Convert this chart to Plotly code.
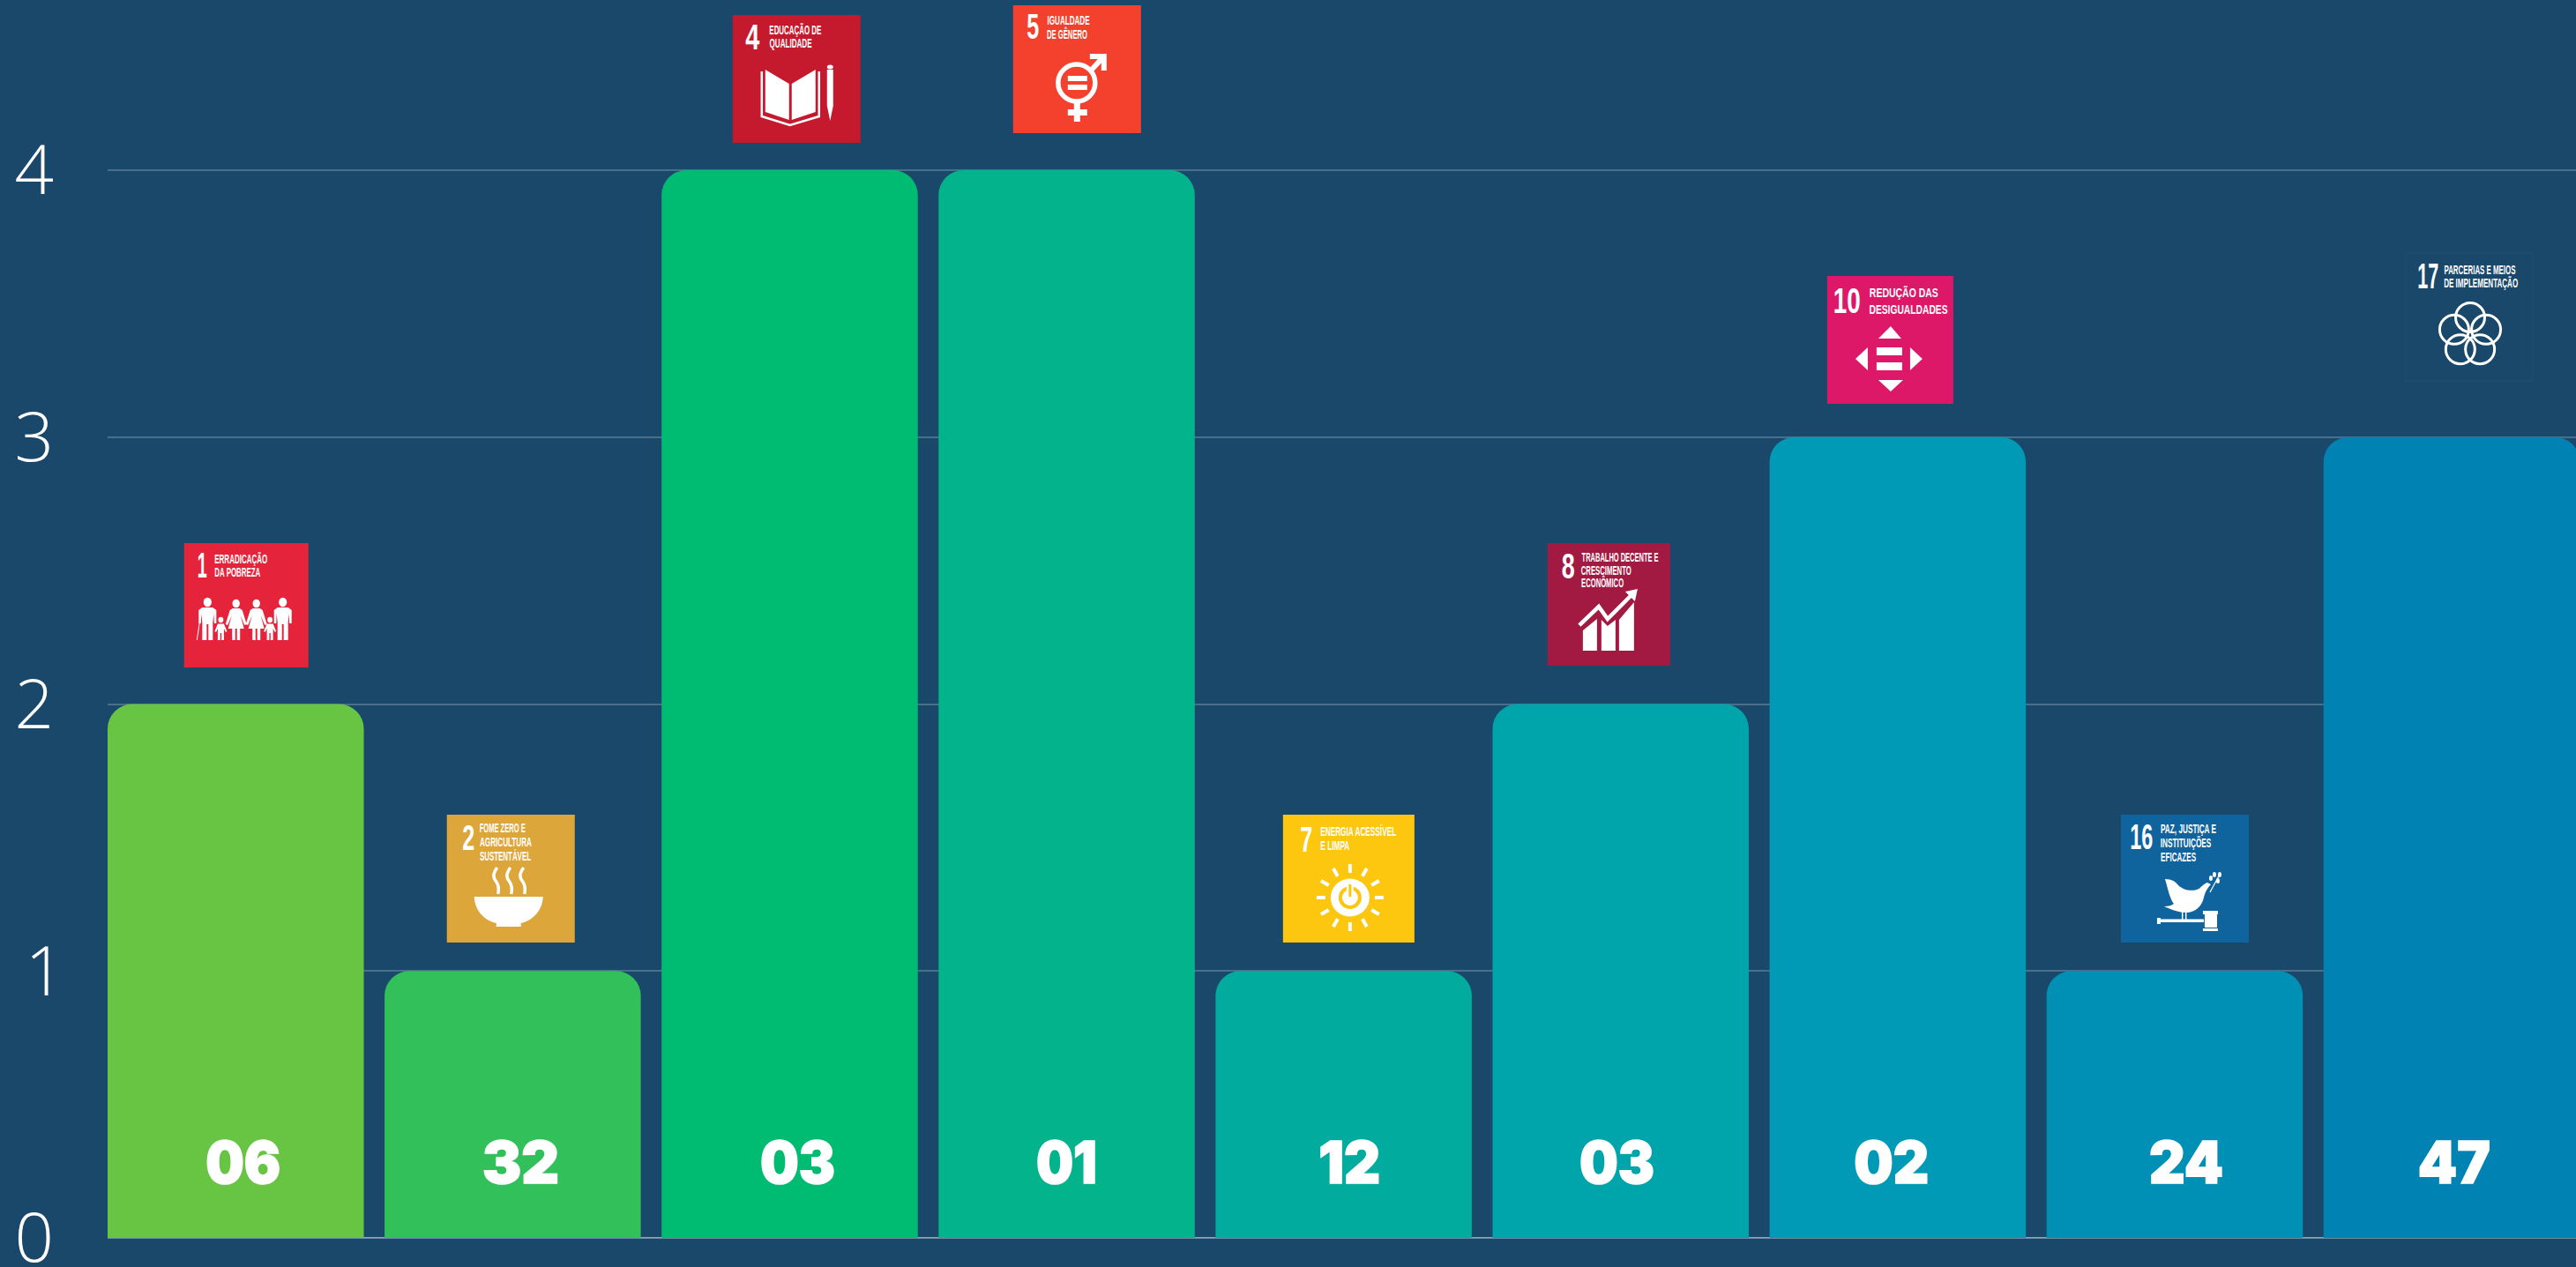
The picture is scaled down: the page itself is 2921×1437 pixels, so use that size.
import json
import math
import plotly.graph_objects as go

# ---------- data ----------
sdg_numbers = ["1", "2", "4", "5", "7", "8", "10", "16", "17"]
sdg_titles = [
    ["ERRADICAÇÃO", "DA POBREZA"],
    ["FOME ZERO E", "AGRICULTURA", "SUSTENTÁVEL"],
    ["EDUCAÇÃO DE", "QUALIDADE"],
    ["IGUALDADE", "DE GÊNERO"],
    ["ENERGIA ACESSÍVEL", "E LIMPA"],
    ["TRABALHO DECENTE E", "CRESCIMENTO", "ECONÔMICO"],
    ["REDUÇÃO DAS", "DESIGUALDADES"],
    ["PAZ, JUSTIÇA E", "INSTITUIÇÕES", "EFICAZES"],
    ["PARCERIAS E MEIOS", "DE IMPLEMENTAÇÃO"],
]
values = [2, 1, 4, 4, 1, 2, 3, 1, 3]
bar_labels = ["06", "32", "03", "01", "12", "03", "02", "24", "47"]
y_ticks = [0, 1, 2, 3, 4]

# ---------- styles ----------
BG = "#1A486B"
WHITE = "#FFFFFF"
bar_colors = ["#68C544", "#32C05A", "#00BC72", "#02B38B", "#01AC9E",
              "#00A4AB", "#009AB6", "#008FB5", "#0083B3"]
icon_colors = ["#E5243B", "#DDA63A", "#C5192D", "#F3412D", "#FDC60F",
               "#A21942", "#DD1868", "#10649E", "#19486A"]
icon_origins = [(209, 616), (507, 924), (831, 17), (1149, 6), (1455, 924),
                (1755, 616), (2072, 313), (2405, 924), (2728, 287)]
icon_sizes = [(141, 141), (145, 145), (145, 145), (145, 145), (149, 145),
              (139, 139), (143, 145), (145, 145), (144, 145)]
number_pos = [(15, 24.5), (17.5, 25.5), (15, 25), (15, 24.5), (19, 27.5),
              (16, 25.5), (7, 28), (11, 25), (13.5, 25.5)]
number_w = [11, 14, 16, 14, 14, 15, 31, 26, 24]
title_x = [35, 37, 42, 38.5, 42.5, 38.6, 48, 45, 44]
title_y = [[17.5, 32.5], [14, 30, 46], [16, 32], [17, 32], [18, 34],
           [15, 30, 45], [19, 37], [15, 31, 47], [18, 33]]
title_w = [[60, 52], [52, 59, 58], [59, 48], [48, 46], [86, 33],
           [87, 57, 48], [78, 89], [63, 57.5, 40], [81, 84]]
label_shifts = [8, 9, 9, 0, 7, -4, -7, 13, 3]
label_w = [85, 87, 85, 69, 70, 85, 85, 84, 82]

L, T, W_PX, H_PX, ZERO_Y = 122.3, 0, 2798.7, 1404, 1404
PITCH, BAR_W = 314.06, 290.5


def fx(x):
    return (x - L) / W_PX


def fy(y):
    return (ZERO_Y - y) / H_PX


shapes = []
annotations = []
text_lengths = []


def poly(o, pts, close=True, fill=WHITE, line=None, w=0):
    d = "M" + " L".join(f"{fx(o[0]+a):.5f},{fy(o[1]+b):.5f}" for a, b in pts)
    if close:
        d += " Z"
    shapes.append(dict(type="path", xref="paper", yref="paper", path=d,
                       fillcolor=fill if close else "rgba(0,0,0,0)",
                       line=dict(color=line or "rgba(0,0,0,0)", width=w)))


def curve(o, segs, close=False, fill=None, line=WHITE, w=3):
    s = segs[0]
    d = f"M{fx(o[0]+s[0]):.5f},{fy(o[1]+s[1]):.5f}"
    for seg in segs[1:]:
        if len(seg) == 3:
            d += " C" + " ".join(f"{fx(o[0]+p[0]):.5f},{fy(o[1]+p[1]):.5f}" for p in seg)
        else:
            d += f" L{fx(o[0]+seg[0]):.5f},{fy(o[1]+seg[1]):.5f}"
    if close:
        d += " Z"
    shapes.append(dict(type="path", xref="paper", yref="paper", path=d,
                       fillcolor=fill or "rgba(0,0,0,0)",
                       line=dict(color=line or "rgba(0,0,0,0)", width=w if line else 0)))


def rect(o, x0, y0, x1, y1, fill=WHITE):
    poly(o, [(x0, y0), (x1, y0), (x1, y1), (x0, y1)], fill=fill)


def circ(o, cx, cy, rx, ry=None, fill=WHITE, line=None, w=0):
    ry = ry if ry is not None else rx
    shapes.append(dict(type="circle", xref="paper", yref="paper",
                       x0=fx(o[0]+cx-rx), x1=fx(o[0]+cx+rx),
                       y0=fy(o[1]+cy+ry), y1=fy(o[1]+cy-ry),
                       fillcolor=fill or "rgba(0,0,0,0)",
                       line=dict(color=line or "rgba(0,0,0,0)", width=w)))


def man(o, x, cane=False):
    circ(o, x, 67, 4.6, 5.2)
    poly(o, [(x-6, 73), (x+6, 73), (x+10, 76), (x+10, 91), (x+7.5, 91), (x+7, 80),
             (x+6, 90), (x+6, 110), (x+1, 110), (x+1, 92), (x-1, 92), (x-1, 110),
             (x-6, 110), (x-6, 90), (x-7, 80), (x-7.5, 91), (x-10, 91), (x-10, 76)])
    if cane:
        poly(o, [(x-9, 90), (x-12, 110)], close=False, line=WHITE, w=1)


def woman(o, x):
    circ(o, x, 68.5, 4.2, 4.8)
    poly(o, [(x-4, 74), (x+4, 74), (x+7, 76), (x+12, 92), (x+9.5, 93), (x+5, 82),
             (x+9, 97), (x+4.5, 97), (x+4.5, 110), (x+1, 110), (x+1, 97), (x-1, 97),
             (x-1, 110), (x-4.5, 110), (x-4.5, 97), (x-9, 97), (x-5, 82), (x-9.5, 93),
             (x-12, 92), (x-7, 76)])


def kid(o, x):
    circ(o, x, 87, 2.9, 3.2)
    poly(o, [(x-3.5, 91.5), (x+3.5, 91.5), (x+7, 100), (x+5.5, 101), (x+3.5, 97),
             (x+3.5, 110), (x+0.7, 110), (x+0.7, 102), (x-0.7, 102), (x-0.7, 110),
             (x-3.5, 110), (x-3.5, 97), (x-5.5, 101), (x-7, 100)])


def glyph_1(o):
    man(o, 26.6, cane=True); man(o, 112)
    woman(o, 59); woman(o, 82)
    kid(o, 41.7); kid(o, 97.4)


def glyph_2(o):
    curve(o, [(31, 93), (109, 93), ((108, 112), (94, 121), (84, 123)), (84, 127),
              (56, 127), (56, 123), ((46, 121), (32, 112), (31, 93))],
          close=True, fill=WHITE, line=None)
    for x in (57, 72, 87):
        curve(o, [(x, 60), ((x-5, 67), (x-5, 71), (x-1, 76)), ((x+2, 80), (x+2, 85), (x+1, 90))], w=3.5)


def glyph_4(o):
    poly(o, [(37, 62), (64, 78), (64, 119), (37, 110)])
    poly(o, [(67, 78), (94, 62), (94, 110), (67, 119)])
    poly(o, [(33, 64), (33, 115), (65, 125), (98, 115), (98, 64)], close=False, line=WHITE, w=2.5)
    poly(o, [(107, 62), (114, 62), (114, 103), (110.5, 120), (107, 103)])
    circ(o, 110.5, 59, 3.5, 2.5)


def glyph_5(o):
    circ(o, 72, 88, 21, fill=None, line=WHITE, w=5.5)
    rect(o, 62, 80, 84, 86)
    rect(o, 62, 90, 84, 96)
    rect(o, 69, 110, 76, 132)
    rect(o, 62, 118, 84, 125)
    poly(o, [(89, 73), (101, 60)], close=False, line=WHITE, w=6)
    poly(o, [(87, 55), (106, 55), (106, 74), (100, 74), (100, 61), (87, 61)])


def glyph_7(o):
    for k in range(12):
        a = math.radians(30 * k)
        poly(o, [(76 + 28 * math.cos(a), 94 + 28 * math.sin(a)),
                 (76 + 38 * math.cos(a), 94 + 38 * math.sin(a))],
             close=False, line=WHITE, w=4)
    circ(o, 76, 94, 22, 21.5)
    circ(o, 76, 94, 11, fill=None, line="#FDC60F", w=4)
    rect(o, 72, 80, 80, 94)
    rect(o, 74.5, 79, 77.5, 93, fill="#FDC60F")


def glyph_8(o):
    poly(o, [(40, 99), (56, 86), (56, 122), (40, 122)])
    poly(o, [(61, 87), (68, 94), (77, 87), (77, 122), (61, 122)])
    poly(o, [(81, 87), (98, 67), (98, 122), (81, 122)])
    poly(o, [(36, 93), (58, 72), (68, 86), (96, 58)], close=False, line=WHITE, w=4.5)
    poly(o, [(88, 55), (102, 52), (99, 66)])


def glyph_10(o):
    poly(o, [(72, 57), (58, 71), (84, 71)])
    poly(o, [(58, 118), (86, 118), (72, 131)])
    poly(o, [(32, 94), (46, 81), (46, 107)])
    poly(o, [(108, 94), (94, 81), (94, 107)])
    rect(o, 56, 81, 85, 90)
    rect(o, 56, 98, 85, 107)


def glyph_16(o):
    curve(o, [(50, 73), ((58, 73), (62, 76), (65, 80)), ((70, 85), (80, 88), (88.5, 84)),
              ((92, 81), (95, 78), (98, 77)), (102, 79), ((97, 84), (95, 90), (94, 94)),
              ((92, 104), (84, 111), (74, 111)), ((66, 111), (58, 108), (49, 104)),
              ((54, 104), (58, 103), (60, 101)), ((55, 95), (53, 82), (50, 73))],
          close=True, fill=WHITE, line=None)
    poly(o, [(101, 88), (113, 66)], close=False, line=WHITE, w=1.2)
    for cx, cy in [(102, 72), (110, 75), (106, 68), (112, 68)]:
        circ(o, cx, cy, 2, 3)
    rect(o, 43, 118.5, 94, 122)
    rect(o, 41, 117, 45, 124)
    rect(o, 69, 110, 70.5, 119); rect(o, 73, 110, 74.5, 119)
    rect(o, 95, 113, 109, 128)
    rect(o, 93, 109, 110, 113)
    rect(o, 93, 129, 110, 132)


def glyph_17(o):
    for k in range(5):
        a = math.radians(-90 + 72 * k)
        circ(o, 73 + 19 * math.cos(a), 93 + 20 * math.sin(a), 16.5,
             fill=None, line=WHITE, w=3)


glyphs = [glyph_1, glyph_2, glyph_4, glyph_5, glyph_7, glyph_8, glyph_10, glyph_16, glyph_17]

CONDENSED = "Liberation Sans, Arial, sans-serif"
for i, num in enumerate(sdg_numbers):
    ox, oy = icon_origins[i]
    w, h = icon_sizes[i]
    shapes.append(dict(type="rect", xref="paper", yref="paper",
                       x0=fx(ox), x1=fx(ox + w), y0=fy(oy + h), y1=fy(oy),
                       fillcolor=icon_colors[i],
                       line=dict(color="#1F4F74" if i == 8 else "rgba(0,0,0,0)", width=1)))
    glyphs[i]((ox, oy))
    nx, ny = number_pos[i]
    annotations.append(dict(xref="paper", yref="paper", x=fx(ox + nx + number_w[i] / 2), y=fy(oy + ny),
                            xanchor="center", yanchor="middle", showarrow=False, text=num,
                            borderpad=0, borderwidth=0,
                            font=dict(family=CONDENSED, size=40, color=WHITE, weight=700)))
    text_lengths.append(number_w[i])
    for line_text, ly, lw in zip(sdg_titles[i], title_y[i], title_w[i]):
        annotations.append(dict(xref="paper", yref="paper", x=fx(ox + title_x[i] + lw / 2), y=fy(oy + ly),
                                xanchor="center", yanchor="middle", showarrow=False, text=line_text,
                                borderpad=0, borderwidth=0,
                                font=dict(family=CONDENSED, size=15, color=WHITE, weight=700)))
        text_lengths.append(lw)

first_bar_label = len(annotations)
cats = [f"ODS {n}" for n in sdg_numbers]
for c, lab, dx, lw in zip(cats, bar_labels, label_shifts, label_w):
    annotations.append(dict(x=c, y=0, xref="x", yref="y", yshift=86, xshift=dx,
                            xanchor="center", yanchor="middle", showarrow=False, text=lab,
                            font=dict(family="Inter, Liberation Sans, sans-serif",
                                      size=66, color=WHITE, weight=900)))
    text_lengths.append(lw)

fig = go.Figure(go.Bar(x=cats, y=values, width=BAR_W / PITCH,
                       marker=dict(color=bar_colors, cornerradius=28, line=dict(width=0)),
                       hoverinfo="x+y"))

fig.update_layout(
    width=2921, height=1437, autosize=False,
    margin=dict(l=122.3, r=0, t=0, b=33, pad=0, autoexpand=False),
    paper_bgcolor=BG, plot_bgcolor=BG, showlegend=False,
    shapes=shapes, annotations=annotations,
    xaxis=dict(type="category", categoryorder="array", categoryarray=cats,
               range=[-BAR_W / PITCH / 2, W_PX / PITCH - BAR_W / PITCH / 2],
               showticklabels=False, showgrid=False, zeroline=False, ticks="",
               showline=True, linecolor="#6C8BA3", linewidth=1),
    yaxis=dict(range=[0, 4.6376], tickvals=y_ticks, ticktext=[str(t) for t in y_ticks],
               showgrid=True, gridcolor="#4A7089", gridwidth=2,
               zeroline=True, zerolinecolor="#8FA6B8", zerolinewidth=2,
               showline=False, ticks="", ticklabelstandoff=60, ticklabeloverflow="allow",
               tickfont=dict(family="Open Sans, sans-serif", size=78, color=WHITE, weight=300)),
)

post = """
document.body.style.margin='0';document.body.style.background='#1A486B';document.body.style.overflow='hidden';
var TL=%s, FIRST=%d;
document.querySelectorAll('.annotation').forEach(function(a){
  var i=+a.getAttribute('data-index');var t=a.querySelector('text');
  if(t&&TL[i]!=null){t.setAttribute('textLength',TL[i]);t.setAttribute('lengthAdjust','spacingAndGlyphs');}
  if(t&&i>=FIRST){t.style.stroke='#FFFFFF';t.style.strokeWidth='1.6px';}
});
document.querySelectorAll('.ytick text').forEach(function(t){
  if(t.textContent==='1'){t.setAttribute('x',parseFloat(t.getAttribute('x'))+12);}
});
""" % (json.dumps(text_lengths), first_bar_label)

fig.write_html("out.html", config={"displayModeBar": False}, post_script=post)
